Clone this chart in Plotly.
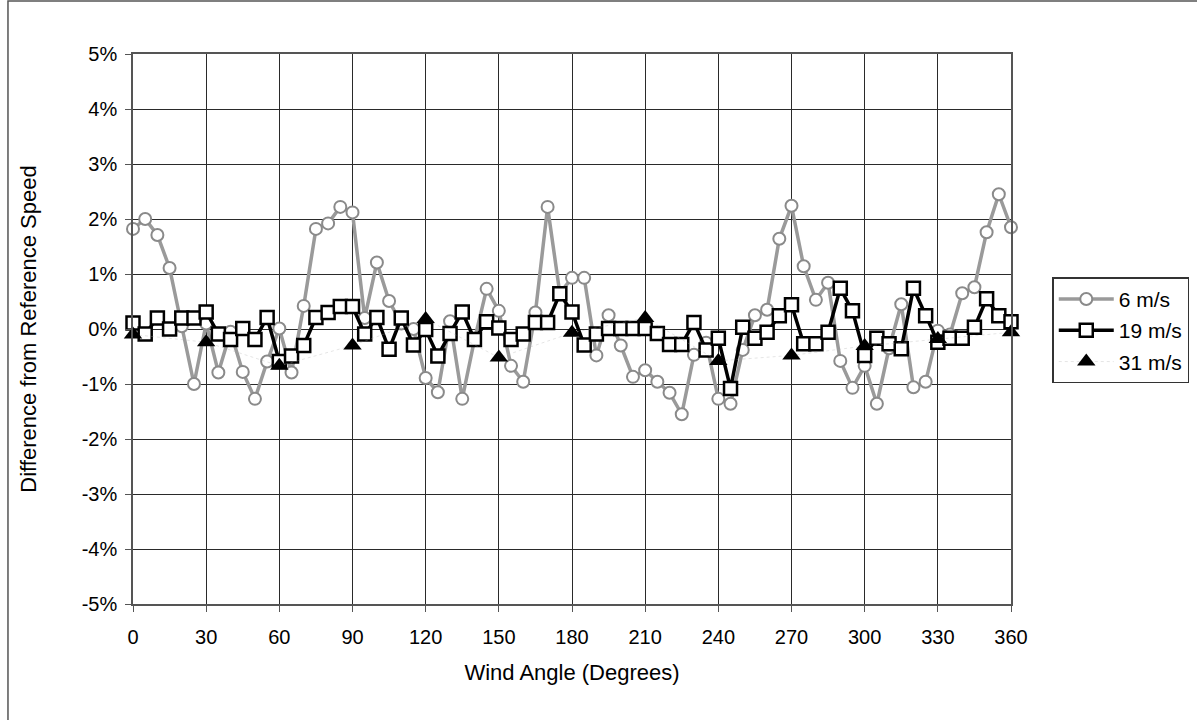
import plotly.graph_objects as go

# ---- data ----
angles = list(range(0, 361, 5))

speed_6 = [1.82, 2.00, 1.71, 1.11, 0.05, -1.00, 0.10, -0.79, -0.05, -0.78,
           -1.27, -0.59, 0.01, -0.79, 0.42, 1.82, 1.92, 2.22, 2.12, 0.20,
           1.21, 0.51, 0.10, 0.00, -0.89, -1.15, 0.14, -1.27, -0.20, 0.73,
           0.33, -0.67, -0.96, 0.30, 2.22, 0.65, 0.93, 0.93, -0.48, 0.25,
           -0.30, -0.87, -0.75, -0.96, -1.16, -1.55, -0.47, -0.25, -1.27, -1.36,
           -0.38, 0.25, 0.35, 1.64, 2.24, 1.14, 0.53, 0.84, -0.58, -1.07,
           -0.67, -1.36, -0.35, 0.45, -1.06, -0.96, -0.03, -0.10, 0.65, 0.76,
           1.76, 2.45, 1.85]

speed_19 = [0.11, -0.09, 0.20, 0.00, 0.20, 0.20, 0.31, -0.09, -0.19, 0.01,
            -0.19, 0.21, -0.59, -0.49, -0.30, 0.21, 0.30, 0.41, 0.41, -0.09,
            0.21, -0.37, 0.20, -0.29, -0.01, -0.49, -0.08, 0.31, -0.19, 0.13,
            0.02, -0.19, -0.09, 0.12, 0.12, 0.64, 0.31, -0.29, -0.09, 0.01,
            0.01, 0.01, 0.01, -0.08, -0.28, -0.28, 0.12, -0.38, -0.17, -1.08,
            0.03, -0.17, -0.06, 0.24, 0.44, -0.27, -0.27, -0.06, 0.74, 0.33,
            -0.48, -0.17, -0.27, -0.36, 0.74, 0.24, -0.24, -0.17, -0.17, 0.03,
            0.55, 0.24, 0.13]

angles_31 = list(range(0, 361, 30))
speed_31 = [-0.10, -0.24, -0.67, -0.30, 0.18, -0.52, -0.07, 0.20,
            -0.58, -0.48, -0.31, -0.18, -0.06]

x_ticks = list(range(0, 361, 30))
y_ticks = [5, 4, 3, 2, 1, 0, -1, -2, -3, -4, -5]
y_tick_labels = ["5%", "4%", "3%", "2%", "1%", "0%", "-1%", "-2%", "-3%", "-4%", "-5%"]

FONT = "Liberation Sans, Arial, sans-serif"

fig = go.Figure()

fig.add_trace(go.Scatter(
    x=angles, y=speed_6, name="6 m/s", mode="lines+markers",
    line=dict(color="#9a9a9a", width=3.5),
    marker=dict(symbol="circle", size=12, color="white",
                line=dict(color="#8a8a8a", width=2)),
    cliponaxis=False, legendgroup="a",
))

fig.add_trace(go.Scatter(
    x=angles, y=speed_19, name="19 m/s", mode="lines+markers",
    line=dict(color="black", width=3.5),
    marker=dict(symbol="square", size=13, color="white",
                line=dict(color="black", width=2.5)),
    cliponaxis=False, legendgroup="b",
))

fig.add_trace(go.Scatter(
    x=angles_31, y=speed_31, name="31 m/s", mode="lines+markers",
    line=dict(color="rgba(170,170,170,0.3)", width=1, dash="dot"),
    marker=dict(symbol="triangle-up", size=16, color="black",
                line=dict(color="black", width=0)),
    cliponaxis=False, legendgroup="c",
))

# outer chart-area border (top and left visible in the reference)
fig.add_shape(type="rect", xref="paper", yref="paper",
              x0=-0.1424, x1=1.3, y0=-0.4, y1=1.0964,
              line=dict(color="#555555", width=1.5), layer="below")

fig.update_layout(
    width=1197, height=720,
    margin=dict(l=133, r=186, t=54, b=116, autoexpand=False),
    paper_bgcolor="white", plot_bgcolor="white",
    font=dict(family=FONT, size=20, color="black"),
    showlegend=True,
    legend=dict(
        x=1.047, y=0.594, xanchor="left", yanchor="top",
        bordercolor="#333333", borderwidth=1.5,
        font=dict(family=FONT, size=21, color="black"),
        itemwidth=55, tracegroupgap=1,
        bgcolor="white",
    ),
    xaxis=dict(
        range=[0, 360], tickmode="array", tickvals=x_ticks,
        showgrid=True, gridcolor="#2a2a2a", gridwidth=1,
        showline=True, linecolor="#555555", linewidth=1.5, mirror=True,
        ticks="outside", ticklen=6, tickcolor="#555555",
        ticklabelstandoff=8,
        zeroline=False, automargin=False,
        tickfont=dict(family=FONT, size=20),
        title=dict(text="Wind Angle (Degrees)", standoff=18,
                   font=dict(family=FONT, size=22)),
    ),
    yaxis=dict(
        range=[-5, 5], tickmode="array", tickvals=y_ticks, ticktext=y_tick_labels,
        showgrid=True, gridcolor="#2a2a2a", gridwidth=1,
        showline=True, linecolor="#555555", linewidth=1.5, mirror=True,
        ticks="outside", ticklen=6, tickcolor="#555555",
        ticklabelstandoff=4,
        zeroline=False, automargin=False,
        tickfont=dict(family=FONT, size=20),
        title=dict(text="Difference from Reference Speed", standoff=39,
                   font=dict(family=FONT, size=22)),
    ),
)

fig.write_html("out.html", config={"displayModeBar": False},
               post_script="document.body.style.margin='0px';")
